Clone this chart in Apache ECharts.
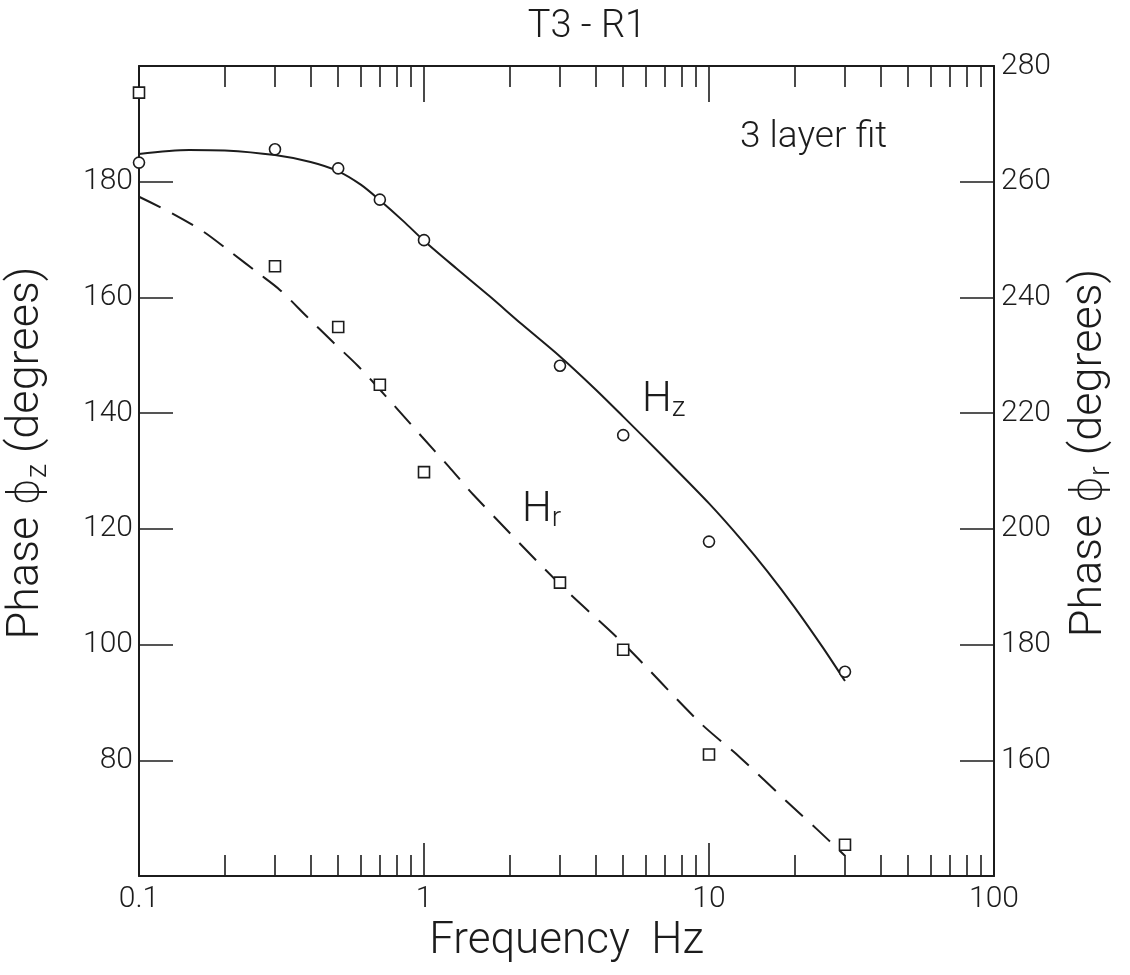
<!DOCTYPE html>
<html><head><meta charset="utf-8">
<script src="https://cdn.jsdelivr.net/npm/echarts@6/dist/echarts.min.js"></script>
<style>html,body{margin:0;padding:0;background:#fff}#c{width:1130px;height:975px}</style>
</head><body><div id="c"></div>
<script>
// ---- data ----
const xMajorTicks = [0.1, 1, 10, 100];
const xMinorTicks = [0.2,0.3,0.4,0.5,0.6,0.7,0.8,0.9, 2,3,4,5,6,7,8,9, 20,30,40,50,60,70,80,90];
const leftTickLabels = [80, 100, 120, 140, 160, 180];
const rightTickLabels = [160, 180, 200, 220, 240, 260, 280];

const freqObs = [0.1, 0.3, 0.5, 0.7, 1, 3, 5, 10, 30];
const hzObs = [183.3, 185.6, 182.3, 176.9, 169.9, 148.2, 136.2, 117.8, 95.3];   // left axis
const hrObs = [275.4, 245.4, 234.9, 224.9, 209.8, 190.7, 179.1, 161.0, 145.4];  // right axis

// 3-layer fit curve for Hz (left axis)
const hzFitFreq = [0.1, 0.15, 0.2, 0.3, 0.4, 0.5, 0.6, 0.7, 0.85, 1, 1.3, 1.7, 2.2, 3, 4, 5, 7, 10, 13, 16, 20, 25, 30];
const hzFit = [184.8, 185.5, 185.4, 184.6, 183.4, 181.8, 179.5, 176.8, 173.1, 169.8, 165.0, 160.2, 155.4, 149.8, 144.1, 139.4, 132.2, 124.4, 118.1, 112.7, 106.4, 99.6, 93.7];

// 3-layer fit curve for Hr (right axis)
const hrFitFreq = [0.1, 0.13, 0.168, 0.209, 0.262, 0.312, 0.388, 0.481, 0.588, 0.78, 0.98, 1.22, 1.49, 3, 5, 9.3, 12.85, 19.2, 23.9, 30];
const hrFit = [257.4, 254.6, 251.4, 247.9, 244.2, 241.3, 236.7, 232.2, 228.1, 221.5, 216.0, 210.8, 205.9, 190.4, 180.2, 166.5, 160.5, 152.4, 148.1, 143.5];

// ---- chart ----
const FONT = 'Roboto, "DejaVu Sans", sans-serif';
const INK = '#1c1c1c';
const zip = (xs, ys) => xs.map((x, i) => [x, ys[i]]);

const chart = echarts.init(document.getElementById('c'), null, {renderer: 'canvas'});

const baseX = {
  type: 'log', logBase: 10, min: 0.1, max: 100,
  splitLine: {show: false}, minorTick: {show: false}
};
const tickStyle = {color: INK, width: 1.6};
const nameRich = {
  phi: {fontFamily: '"DejaVu Sans", sans-serif', fontSize: 42, fontWeight: 300, color: INK, lineHeight: 52},
  sub: {fontFamily: FONT, fontSize: 29, fontWeight: 300, color: INK, lineHeight: 18, verticalAlign: 'bottom'}
};

chart.setOption({
  backgroundColor: '#ffffff',
  animation: false,
  grid: {left: 139, right: 136, top: 66, bottom: 99, outerBoundsMode: 'none', containLabel: false},
  xAxis: [
    Object.assign({}, baseX, {
      position: 'bottom',
      axisLine: {show: true, onZero: false, lineStyle: {color: INK, width: 2}},
      axisTick: {show: true, inside: true, length: 33, lineStyle: tickStyle, customValues: xMajorTicks},
      axisLabel: {show: true, customValues: xMajorTicks, margin: 8, color: INK,
        fontFamily: FONT, fontSize: 30, fontWeight: 300,
        formatter: v => String(+v.toPrecision(3))},
      name: 'Frequency  Hz', nameLocation: 'middle', nameGap: 44,
      nameTextStyle: {color: INK, fontFamily: FONT, fontSize: 44, fontWeight: 300}
    }),
    Object.assign({}, baseX, {
      position: 'bottom',
      axisLine: {show: false, onZero: false},
      axisTick: {show: true, inside: true, length: 21, lineStyle: tickStyle, customValues: xMinorTicks},
      axisLabel: {show: false}
    }),
    Object.assign({}, baseX, {
      position: 'top',
      axisLine: {show: true, onZero: false, lineStyle: {color: INK, width: 2}},
      axisTick: {show: true, inside: true, length: 36, lineStyle: tickStyle, customValues: xMajorTicks},
      axisLabel: {show: false}
    }),
    Object.assign({}, baseX, {
      position: 'top',
      axisLine: {show: false, onZero: false},
      axisTick: {show: true, inside: true, length: 21, lineStyle: tickStyle, customValues: xMinorTicks},
      axisLabel: {show: false}
    })
  ],
  yAxis: [
    {
      type: 'value', position: 'left', min: 60, max: 200, interval: 20,
      splitLine: {show: false},
      axisLine: {show: true, lineStyle: {color: INK, width: 2}},
      axisTick: {show: true, inside: true, length: 34, lineStyle: tickStyle},
      axisLabel: {color: INK, fontFamily: FONT, fontSize: 30, fontWeight: 300, margin: 6,
        formatter: v => leftTickLabels.includes(v) ? String(v) : ''},
      name: 'Phase {phi|ϕ}{sub|z} (degrees)', nameLocation: 'middle', nameRotate: 90, nameGap: 86,
      nameTextStyle: {color: INK, fontFamily: FONT, fontSize: 45, fontWeight: 300, lineHeight: 52,
        padding: [0, 0, 0, 36], rich: nameRich}
    },
    {
      type: 'value', position: 'right', min: 140, max: 280, interval: 20,
      splitLine: {show: false},
      axisLine: {show: true, lineStyle: {color: INK, width: 2}},
      axisTick: {show: true, inside: true, length: 34, lineStyle: tickStyle},
      axisLabel: {color: INK, fontFamily: FONT, fontSize: 30, fontWeight: 300, margin: 7,
        formatter: v => rightTickLabels.includes(v) ? String(v) : ''},
      name: 'Phase {phi|ϕ}{sub|r} (degrees)', nameLocation: 'middle', nameRotate: 90, nameGap: 70,
      nameTextStyle: {color: INK, fontFamily: FONT, fontSize: 45, fontWeight: 300, lineHeight: 52,
        padding: [0, 0, 0, 36], rich: nameRich}
    }
  ],
  series: [
    {
      name: 'Hz fit', type: 'line', xAxisIndex: 0, yAxisIndex: 0,
      data: zip(hzFitFreq, hzFit), smooth: 0.3, symbol: 'none',
      lineStyle: {color: INK, width: 2}, z: 3
    },
    {
      name: 'Hr fit', type: 'line', xAxisIndex: 0, yAxisIndex: 1,
      data: zip(hrFitFreq, hrFit), smooth: 0.3, symbol: 'none',
      lineStyle: {color: INK, width: 2, type: [24, 13]}, z: 3
    },
    {
      name: 'Hz obs', type: 'scatter', xAxisIndex: 0, yAxisIndex: 0,
      data: zip(freqObs, hzObs), symbol: 'circle', symbolSize: 11,
      itemStyle: {color: '#ffffff', borderColor: INK, borderWidth: 1.6, opacity: 1}, z: 4
    },
    {
      name: 'Hr obs', type: 'scatter', xAxisIndex: 0, yAxisIndex: 1,
      data: zip(freqObs, hrObs), symbol: 'rect', symbolSize: 11,
      itemStyle: {color: '#ffffff', borderColor: INK, borderWidth: 1.6, opacity: 1}, z: 4
    }
  ],
  graphic: [
    {type: 'text', x: 587, y: 27, style: {text: 'T3 - R1', fill: INK, font: '300 38px ' + FONT,
      textAlign: 'center', textVerticalAlign: 'middle'}},
    {type: 'text', x: 740, y: 138, style: {text: '3 layer fit', fill: INK, font: '300 37px ' + FONT,
      textAlign: 'left', textVerticalAlign: 'middle'}},
    {type: 'text', x: 642, y: 400, style: {text: '{h|H}{s|z}', fill: INK, textAlign: 'left', textVerticalAlign: 'middle',
      rich: {h: {fontFamily: FONT, fontSize: 42, fontWeight: 300, lineHeight: 46, fill: INK},
             s: {fontFamily: FONT, fontSize: 28, fontWeight: 300, lineHeight: 16, verticalAlign: 'bottom', fill: INK}}}},
    {type: 'text', x: 522, y: 510, style: {text: '{h|H}{s|r}', fill: INK, textAlign: 'left', textVerticalAlign: 'middle',
      rich: {h: {fontFamily: FONT, fontSize: 42, fontWeight: 300, lineHeight: 46, fill: INK},
             s: {fontFamily: FONT, fontSize: 28, fontWeight: 300, lineHeight: 16, verticalAlign: 'bottom', fill: INK}}}}
  ]
});
</script>
</body></html>
